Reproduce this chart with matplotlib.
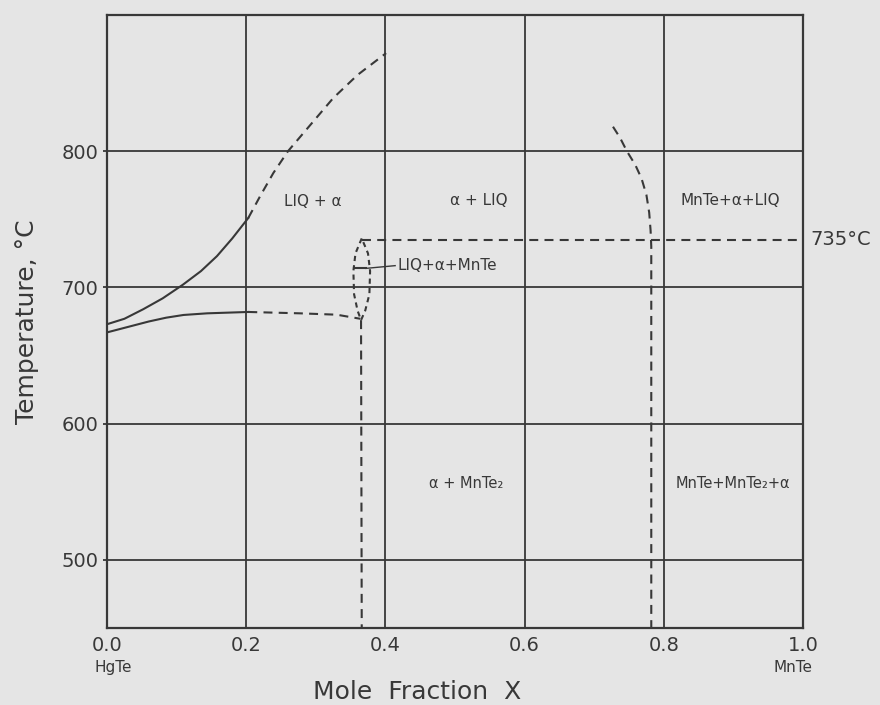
import numpy as np
import matplotlib
matplotlib.use("Agg")
import matplotlib.pyplot as plt

# liquidus / solidus (x = mole fraction MnTe, t = deg C)
liq_solid_x = [0.0, 0.025, 0.052, 0.080, 0.109, 0.135, 0.158, 0.180, 0.203]
liq_solid_t = [673, 677, 684, 692, 702, 712, 723, 736, 751]
liq_dash_x = [0.203, 0.220, 0.239, 0.260, 0.290, 0.325, 0.360, 0.401]
liq_dash_t = [751, 767, 784, 800, 818, 839, 856, 872]

sol_solid_x = [0.0, 0.030, 0.060, 0.085, 0.110, 0.144, 0.203]
sol_solid_t = [667, 671, 675, 677.8, 679.8, 681, 682]
sol_dash_x = [0.203, 0.277, 0.330, 0.364]
sol_dash_t = [682, 681, 680, 677]

# small closed loop near x = 0.366
lens_x = [0.366, 0.357, 0.354, 0.355, 0.360, 0.365, 0.371, 0.377, 0.378, 0.375, 0.366]
lens_t = [736, 725, 712, 695, 683, 676, 683, 695, 712, 725, 736]

left_vert_x = [0.365, 0.366]
left_vert_t = [676, 450]

eutectic_x = [0.366, 1.0]
eutectic_t = [735, 735]

right_x = [0.727, 0.737, 0.747, 0.759, 0.768, 0.775, 0.779, 0.781, 0.782, 0.782, 0.782]
right_t = [818, 810, 800, 790, 780, 768, 755, 742, 730, 700, 450]

mark_x = [0.355, 0.372]
mark_t = [714, 714]
leader_x = [0.372, 0.414]
leader_t = [714, 716]

xticks = [0.0, 0.2, 0.4, 0.6, 0.8, 1.0]
xtick_labels = ["0.0", "0.2", "0.4", "0.6", "0.8", "1.0"]
yticks = [500, 600, 700, 800]

regions = [
    ("LIQ + α", 0.295, 763, "center", 11),
    ("α + LIQ", 0.534, 764, "center", 11),
    ("MnTe+α+LIQ", 0.895, 764, "center", 11),
    ("LIQ+α+MnTe", 0.418, 716, "left", 11),
    ("α + MnTe₂", 0.516, 556, "center", 10.5),
    ("MnTe+MnTe₂+α", 0.900, 556, "center", 10.5),
]

bg = "#e5e5e5"
ink = "#383838"
plt.rcParams["font.family"] = ["DejaVu Sans"]

fig = plt.figure(figsize=(8.8, 7.05), dpi=100, facecolor=bg)
ax = fig.add_axes([107 / 880, 77 / 705, 696 / 880, 613 / 705])
ax.set_facecolor(bg)
ax.set_xlim(0, 1.0)
ax.set_ylim(450, 900)

# grid
for gx in xticks[1:-1]:
    ax.axvline(gx, color=ink, lw=1.3, zorder=1)
for gy in yticks:
    ax.axhline(gy, color=ink, lw=1.3, zorder=1)

dash = dict(color=ink, lw=1.5, dashes=(4.3, 3.0), zorder=3)
solid = dict(color=ink, lw=1.5, zorder=3)

ax.plot(liq_solid_x, liq_solid_t, **solid)
ax.plot(liq_dash_x, liq_dash_t, **dash)
ax.plot(sol_solid_x, sol_solid_t, **solid)
ax.plot(sol_dash_x, sol_dash_t, **dash)
ax.plot(lens_x, lens_t, color=ink, lw=1.5, dashes=(2.5, 2.0), zorder=3)
ax.plot(left_vert_x, left_vert_t, **dash)
ax.plot(eutectic_x, eutectic_t, **dash)
ax.plot(right_x, right_t, **dash)
ax.plot(mark_x, mark_t, **solid)
ax.plot(leader_x, leader_t, color=ink, lw=1.0, zorder=3)

for label, x, t, ha, fs in regions:
    ax.text(x, t, label, ha=ha, va="center", fontsize=fs, color=ink)

ax.text(1.01, 735, "735°C", ha="left", va="center", fontsize=14, color=ink,
        clip_on=False)

ax.set_xticks(xticks)
ax.set_xticklabels(xtick_labels)
ax.set_yticks(yticks)
ax.tick_params(axis="x", length=0, pad=6, labelsize=14, colors=ink)
ax.tick_params(axis="y", length=3, width=1.3, pad=3, labelsize=14, colors=ink)
for s in ax.spines.values():
    s.set_color(ink)
    s.set_linewidth(1.6)

xt = ax.get_xaxis_transform()
ax.text(0.009, -0.065, "HgTe", transform=xt, ha="center", va="center",
        fontsize=11, color=ink)
ax.text(0.986, -0.065, "MnTe", transform=xt, ha="center", va="center",
        fontsize=11, color=ink)

ax.text(0.445, -0.105, "Mole  Fraction  X", transform=ax.transAxes,
        ha="center", va="center", fontsize=18, color=ink)
ax.text(-0.115, 0.5, "Temperature, °C", transform=ax.transAxes, rotation=90,
        ha="center", va="center", fontsize=18, color=ink)

fig.savefig("out.png", dpi=100, facecolor=bg)
